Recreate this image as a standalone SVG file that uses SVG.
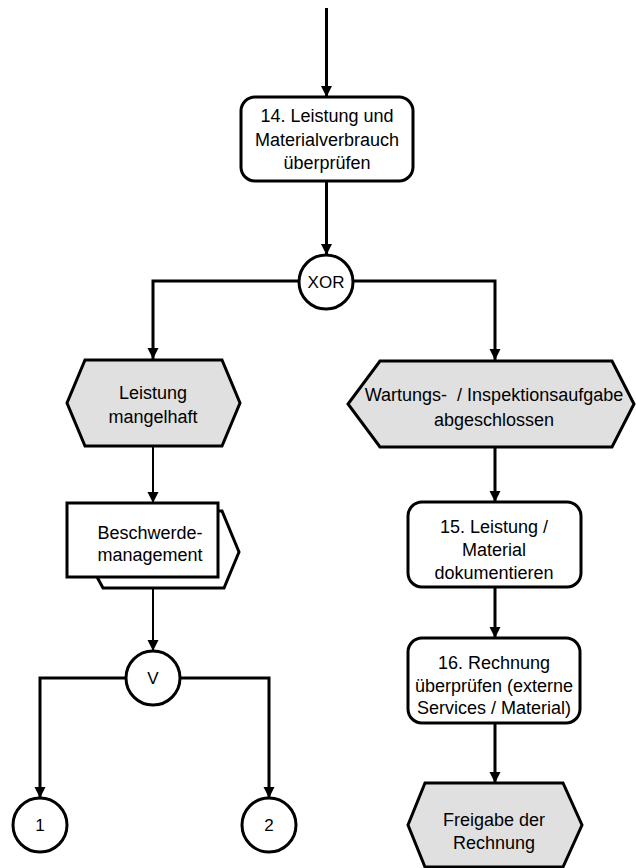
<svg xmlns="http://www.w3.org/2000/svg" width="636" height="868" viewBox="0 0 636 868">
<style>
.t{font-family:"Liberation Sans",Arial,sans-serif;font-size:18px;fill:#000;text-anchor:middle}
.fn{fill:#fff;stroke:#000;stroke-width:3}
.ev{fill:#e0e0e0;stroke:#000;stroke-width:3;stroke-linejoin:miter}
.op{fill:#fff;stroke:#000;stroke-width:3}
.c{fill:none;stroke:#000;stroke-width:3;marker-end:url(#ah)}
.ct{fill:none;stroke:#000;stroke-width:2;marker-end:url(#ah)}
</style>
<defs>
<marker id="ah" markerUnits="userSpaceOnUse" markerWidth="12" markerHeight="12" refX="11" refY="6" orient="auto">
<path d="M0,0.5 L11,6 L0,11.5 Z" fill="#000"/>
</marker>
</defs>
<rect width="636" height="868" fill="#fff"/>
<g id="connectors">
<path class="c" d="M326.5,8 V97"/>
<path class="c" d="M326.5,181 V255"/>
<path class="c" d="M299,281 H153 V359"/>
<path class="c" d="M353,281 H495 V360"/>
<path class="ct" d="M153,446 V503"/>
<path class="ct" d="M153,589 V651"/>
<path class="c" d="M126,678 H40 V798"/>
<path class="c" d="M180,678 H269 V798"/>
<path class="c" d="M495,447 V502"/>
<path class="c" d="M495,587 V638"/>
<path class="c" d="M495,723 V783"/>
</g>
<g id="f14">
<rect class="fn" x="241" y="97" width="172" height="84" rx="14"/>
<text class="t" x="327" y="122">14. Leistung und</text>
<text class="t" x="327" y="146">Materialverbrauch</text>
<text class="t" x="327" y="169">überprüfen</text>
</g>
<g id="xor">
<circle class="op" cx="326" cy="282" r="27"/>
<text class="t" x="326" y="288" style="font-size:17px">XOR</text>
</g>
<g id="e_mangelhaft">
<polygon class="ev" points="85,360 222,360 240,403 222,446 85,446 67,403"/>
<text class="t" x="153" y="399">Leistung</text>
<text class="t" x="153" y="423">mangelhaft</text>
</g>
<g id="p_beschwerde">
<polygon class="fn" points="96,511 222,511 239,552 224,588 103,588 96,575"/>
<rect class="fn" x="67" y="503" width="151" height="74"/>
<text class="t" x="150" y="539">Beschwerde-</text>
<text class="t" x="150" y="561">management</text>
</g>
<g id="or">
<circle class="op" cx="153" cy="678" r="27"/>
<text class="t" x="153" y="684" style="font-size:17px">V</text>
</g>
<g id="c1">
<circle class="op" cx="40" cy="825" r="27"/>
<text class="t" x="40" y="831" style="font-size:17px">1</text>
</g>
<g id="c2">
<circle class="op" cx="269" cy="825" r="27"/>
<text class="t" x="269" y="831" style="font-size:17px">2</text>
</g>
<g id="e_wartung">
<polygon class="ev" points="380,361 612,361 634,404 612,447 380,447 348,404"/>
<text class="t" x="494" y="401" xml:space="preserve">Wartungs-  / Inspektionsaufgabe</text>
<text class="t" x="494" y="426">abgeschlossen</text>
</g>
<g id="f15">
<rect class="fn" x="408" y="502" width="173" height="85" rx="14"/>
<text class="t" x="494" y="533">15. Leistung /</text>
<text class="t" x="494" y="556">Material</text>
<text class="t" x="494" y="579">dokumentieren</text>
</g>
<g id="f16">
<rect class="fn" x="408" y="638" width="172" height="85" rx="14"/>
<text class="t" x="494" y="669">16. Rechnung</text>
<text class="t" x="494" y="692">überprüfen (externe</text>
<text class="t" x="494" y="714">Services / Material)</text>
</g>
<g id="e_freigabe">
<polygon class="ev" points="425,783 563,783 582,825 563,867 425,867 408,825"/>
<text class="t" x="494" y="826">Freigabe der</text>
<text class="t" x="494" y="849">Rechnung</text>
</g>
</svg>
